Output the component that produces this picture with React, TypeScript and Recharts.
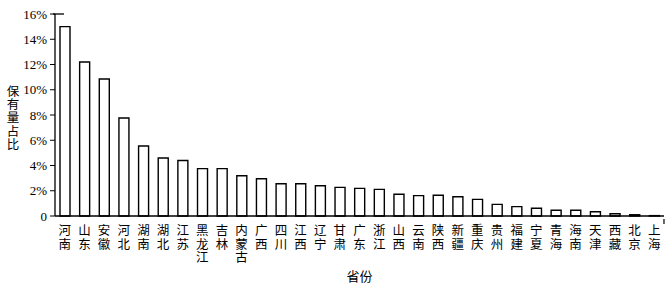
import { BarChart, Bar, XAxis, YAxis } from "recharts";

const provinces = [
  "河南", "山东", "安徽", "河北", "湖南", "湖北", "江苏", "黑龙江", "吉林", "内蒙古",
  "广西", "四川", "江西", "辽宁", "甘肃", "广东", "浙江", "山西", "云南", "陕西",
  "新疆", "重庆", "贵州", "福建", "宁夏", "青海", "海南", "天津", "西藏", "北京", "上海",
];

const shares = [
  15.0, 12.2, 10.85, 7.76, 5.55, 4.6, 4.4, 3.75, 3.75, 3.19,
  2.95, 2.56, 2.56, 2.4, 2.27, 2.19, 2.11, 1.72, 1.61, 1.64,
  1.53, 1.32, 0.92, 0.74, 0.61, 0.45, 0.45, 0.34, 0.18, 0.1, 0.03,
];

const yTicks = [0, 2, 4, 6, 8, 10, 12, 14, 16];

const data = provinces.map((name, i) => ({ name, value: shares[i] }));

const CJK = "'Noto Sans CJK SC', sans-serif";
const SERIF = "'Liberation Serif', 'Times New Roman', serif";

// upright stacked characters, one text per char
function VerticalTick({ x, y, payload, index }: any) {
  const chars = String(payload.value).split("");
  const last = index === provinces.length - 1;
  return (
    <g>
      {chars.map((c, i) => (
        <text
          key={i}
          x={x}
          y={y + 11 + i * 13.5}
          fontFamily={CJK}
          fontSize={12.5}
          fill="#000"
          textAnchor="middle"
        >
          {c}
        </text>
      ))}
      {last && <line x1={x + 9.8} x2={x + 9.8} y1={y - 5} y2={y} stroke="#000" strokeWidth={1.2} />}
    </g>
  );
}

function PercentTick({ x, y, payload }: any) {
  const v = payload.value;
  return (
    <g>
      <text
        x={x}
        y={y}
        dy={4.5}
        textAnchor="end"
        fontFamily={SERIF}
        fontSize={13}
        fill="#000"
      >
        {v === 0 ? "0" : `${v}%`}
      </text>
      {v === 16 && <line x1={x + 6} x2={x + 17} y1={y} y2={y} stroke="#000" strokeWidth={1.3} />}
    </g>
  );
}

function YLabel() {
  const chars = "保有量占比".split("");
  return (
    <g>
      {chars.map((c, i) => (
        <text
          key={i}
          x={13}
          y={96 + i * 13.2}
          fontFamily={CJK}
          fontSize={12.5}
          fill="#000"
          textAnchor="middle"
        >
          {c}
        </text>
      ))}
    </g>
  );
}

export default function App() {
  return (
    <div style={{ position: "absolute", left: 0, top: 0, background: "#fff" }}>
      <BarChart
        width={671}
        height={285}
        data={data}
        margin={{ top: 14, right: 7, bottom: 0, left: 0 }}
      >
        <XAxis
          dataKey="name"
          interval={0}
          height={69}
          tickLine={false}
          axisLine={{ stroke: "#000", strokeWidth: 1.3 }}
          tick={<VerticalTick />}
          label={{
            value: "省份",
            position: "insideBottom",
            offset: 4,
            fontFamily: CJK,
            fontSize: 13,
            fill: "#000",
          }}
        />
        <YAxis
          width={55}
          domain={[0, 16]}
          ticks={yTicks}
          interval={0}
          tickSize={5}
          tickMargin={3}
          tickLine={{ stroke: "#000" }}
          axisLine={{ stroke: "#000", strokeWidth: 1.3 }}
          tick={<PercentTick />}
          label={<YLabel />}
        />
        <Bar
          dataKey="value"
          fill="#fff"
          stroke="#000"
          strokeWidth={1.4}
          barSize={10}
          isAnimationActive={false}
        />
      </BarChart>
    </div>
  );
}
